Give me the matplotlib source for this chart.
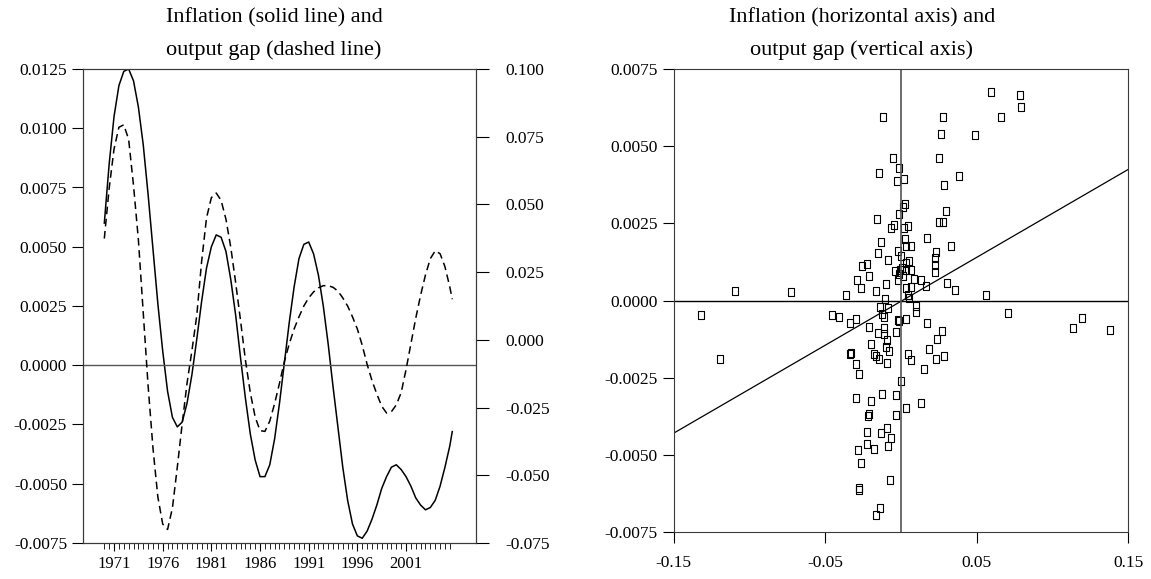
import numpy as np
import matplotlib
matplotlib.use("Agg")
import matplotlib.pyplot as plt
from matplotlib.ticker import FixedLocator, FormatStrFormatter

plt.rcParams["font.family"] = ["Liberation Serif", "DejaVu Serif"]
plt.rcParams["axes.unicode_minus"] = False

# ── data: left panel (half-yearly readings) ──
years = np.append(np.arange(1970.0, 2005.51, 0.5), 2005.75)
inflation = [0.0060, 0.0085, 0.0105, 0.0118, 0.0124, 0.0125, 0.0120, 0.0109,
             0.0093, 0.0072, 0.0049, 0.0026, 0.0006, -0.0011, -0.0022, -0.0026,
             -0.0024, -0.0016, -0.0004, 0.0011, 0.0027, 0.0041, 0.0050, 0.0055,
             0.0054, 0.0048, 0.0036, 0.0021, 0.0003, -0.0014, -0.0029, -0.0040,
             -0.0047, -0.0047, -0.0042, -0.0031, -0.0016, 0.0001, 0.0018, 0.0033,
             0.0045, 0.0051, 0.0052, 0.0047, 0.0038, 0.0025, 0.0009, -0.0009,
             -0.0026, -0.0043, -0.0057, -0.0067, -0.0072, -0.0073, -0.0070, -0.0065,
             -0.0059, -0.0052, -0.0047, -0.0043, -0.0042, -0.0044, -0.0047, -0.0051,
             -0.0056, -0.0059, -0.0061, -0.0060, -0.0057, -0.0051, -0.0043, -0.0034,
             -0.0028]
output_gap = [0.0374, 0.0560, 0.0705, 0.0785, 0.0794, 0.0740, 0.0570, 0.0370,
              0.0100, -0.0170, -0.0400, -0.0580, -0.0680, -0.0700, -0.0620, -0.0470,
              -0.0310, -0.0160, -0.0040, 0.0090, 0.0290, 0.0450, 0.0525, 0.0542,
              0.0515, 0.0445, 0.0340, 0.0210, 0.0070, -0.0075, -0.0195, -0.0285,
              -0.0335, -0.0338, -0.0300, -0.0235, -0.0160, -0.0080, -0.0015, 0.0040,
              0.0085, 0.0125, 0.0155, 0.0177, 0.0192, 0.0200, 0.0200, 0.0194,
              0.0180, 0.0155, 0.0125, 0.0085, 0.0040, -0.0020, -0.0090, -0.0150,
              -0.0200, -0.0245, -0.0270, -0.0265, -0.0240, -0.0195, -0.0110, -0.0015,
              0.0080, 0.0165, 0.0240, 0.0300, 0.0329, 0.0318, 0.0270, 0.0195,
              0.0150]
year_labels = [1971, 1976, 1981, 1986, 1991, 1996, 2001]

# ── data: right panel scatter ──
scatter_x = [-0.0117, -0.0051, -0.0147, -0.0015, 0.0018, -0.0025, 0.0025, 0.0015,
             -0.0010, -0.0157, -0.0048, -0.0065, 0.0018, 0.0045, 0.0173, -0.0131,
             0.0025, 0.0036, 0.0063, -0.0153, -0.0021, 0.0003, -0.0084, 0.0234,
             0.0223, 0.0056, -0.0223, -0.0256, 0.0030, 0.0008, -0.0041, -0.0008,
             0.0036, 0.0063, 0.0223, 0.0223, -0.0213, -0.0015, 0.0015, -0.0289,
             -0.0021, 0.0089, 0.0133, -0.0267, -0.0102, -0.0168, 0.0030, 0.0063,
             0.0168, -0.0362, -0.0107, 0.0045, 0.0051, 0.0591, 0.0784, 0.0789,
             0.0279, 0.0657, 0.0261, 0.0487, 0.0254, 0.0382, 0.0283, 0.0298,
             0.0254, 0.0279, 0.0333, 0.0305, 0.0355, 0.0564, -0.1093, -0.0729,
             -0.0140, -0.0087, 0.0096, 0.0096, -0.0454, -0.0410, -0.0124, -0.0109,
             -0.0300, -0.0338, -0.0021, -0.0015, 0.0030, 0.0173, -0.0213, -0.0109,
             -0.0150, -0.0114, -0.0036, -0.0091, 0.0239, -0.0197, -0.0096, -0.0081,
             0.0184, -0.0329, -0.0338, -0.0175, -0.0162, -0.0147, 0.0048, 0.0063,
             -0.0091, 0.0228, -0.0294, -0.0279, 0.0150, -0.0003, -0.0300, -0.0197,
             -0.0124, -0.0032, 0.0129, 0.0032, -0.0213, -0.0217, -0.0032, -0.0223,
             -0.0129, -0.0091, -0.0063, -0.0223, -0.0180, -0.0084, -0.0283, -0.0267,
             -0.0074, -0.0279, -0.0279, -0.0140, -0.0162, 0.0706, 0.1135, 0.1197,
             0.1378, 0.0272, 0.0282, -0.1323, -0.1195]
scatter_y = [0.00594, 0.00463, 0.00413, 0.00429, 0.00395, 0.00387, 0.00312, 0.00303,
             0.00279, 0.00265, 0.00244, 0.00236, 0.00236, 0.00241, 0.00204, 0.00190,
             0.00198, 0.00176, 0.00176, 0.00154, 0.00161, 0.00143, 0.00133, 0.00157,
             0.00139, 0.00128, 0.00118, 0.00111, 0.00122, 0.00107, 0.00096, 0.00098,
             0.00100, 0.00100, 0.00114, 0.00093, 0.00079, 0.00087, 0.00079, 0.00068,
             0.00066, 0.00070, 0.00068, 0.00042, 0.00055, 0.00031, 0.00042, 0.00044,
             0.00046, 0.00017, 0.00006, 0.00017, 0.00010, 0.00675, 0.00667, 0.00627,
             0.00594, 0.00594, 0.00538, 0.00535, 0.00463, 0.00402, 0.00373, 0.00289,
             0.00255, 0.00255, 0.00177, 0.00058, 0.00036, 0.00017, 0.00031, 0.00028,
             -0.00021, -0.00023, -0.00018, -0.00037, -0.00048, -0.00053, -0.00044, -0.00053,
             -0.00058, -0.00073, -0.00062, -0.00066, -0.00061, -0.00073, -0.00085, -0.00089,
             -0.00105, -0.00109, -0.00102, -0.00129, -0.00123, -0.00139, -0.00150, -0.00163,
             -0.00155, -0.00170, -0.00172, -0.00174, -0.00180, -0.00188, -0.00174, -0.00193,
             -0.00202, -0.00190, -0.00204, -0.00236, -0.00222, -0.00260, -0.00315, -0.00325,
             -0.00301, -0.00307, -0.00330, -0.00346, -0.00366, -0.00375, -0.00371, -0.00425,
             -0.00427, -0.00411, -0.00444, -0.00465, -0.00481, -0.00469, -0.00482, -0.00525,
             -0.00580, -0.00607, -0.00614, -0.00672, -0.00695, -0.00040, -0.00089, -0.00056,
             -0.00094, -0.00098, -0.00180, -0.00045, -0.00189]
fit_x = [-0.15, 0.15]
fit_y = [-0.00429, 0.00425]

W, H = 1151, 579
fig = plt.figure(figsize=(W / 100, H / 100), dpi=100)
edge = "#3a3a3a"

# ── left panel: time series ──
ax1 = fig.add_axes([83 / W, 1 - 543 / H, 393 / W, 474 / H])
ax1.plot(years, inflation, color="black", lw=1.1)
ax1.axhline(0, color="#555555", lw=1.0)
ax1.set_xlim(1967.81, 2008.19)
ax1.set_ylim(-0.0075, 0.0125)
ax1.set_yticks(np.arange(-0.0075, 0.01251, 0.0025))
ax1.yaxis.set_major_formatter(FormatStrFormatter("%.4f"))
ax1.set_xticks(year_labels)
ax1.xaxis.set_minor_locator(FixedLocator(np.arange(1970.0, 2005.76, 0.5)))
ax1.tick_params(axis="x", which="major", direction="out", length=6, labelsize=12)
ax1.tick_params(axis="x", which="minor", direction="out", length=4)
ax1.tick_params(axis="y", direction="out", length=8, labelsize=12.5)

ax2 = ax1.twinx()
ax2.plot(years, output_gap, color="black", lw=1.1, linestyle=(0, (5, 3)))
ax2.set_ylim(-0.075, 0.100)
ax2.set_yticks(np.arange(-0.075, 0.1001, 0.025))
ax2.yaxis.set_major_formatter(FormatStrFormatter("%.3f"))
ax2.tick_params(axis="y", direction="out", length=9, pad=12, labelsize=12.5)
for a in (ax1, ax2):
    for s in a.spines.values():
        s.set_color(edge)

# ── right panel: scatter ──
ax3 = fig.add_axes([673.7 / W, 1 - 532.3 / H, 454.6 / W, 463.3 / H])
box = [(-0.33, -0.5), (0.33, -0.5), (0.33, 0.5), (-0.33, 0.5), (-0.33, -0.5)]
ax3.plot(scatter_x, scatter_y, linestyle="none", marker=box, ms=5.5,
         mfc="none", mec="black", mew=0.8)
ax3.plot(fit_x, fit_y, color="black", lw=0.9)
ax3.axhline(0, color="black", lw=1.0)
ax3.axvline(0, color="#555555", lw=1.2)
ax3.set_xlim(-0.15, 0.15)
ax3.set_ylim(-0.0075, 0.0075)
ax3.set_xticks([-0.15, -0.05, 0.05, 0.15])
ax3.xaxis.set_major_formatter(FormatStrFormatter("%.2f"))
ax3.set_yticks(np.arange(-0.0075, 0.00751, 0.0025))
ax3.yaxis.set_major_formatter(FormatStrFormatter("%.4f"))
ax3.tick_params(direction="out", length=8, labelsize=12.5)
ax3.tick_params(axis="x", pad=8)
for s in ax3.spines.values():
    s.set_color(edge)

fig.text(274 / W, 1 - 18 / H, "Inflation (solid line) and", ha="center", va="center", fontsize=16)
fig.text(274 / W, 1 - 50 / H, "output gap (dashed line)", ha="center", va="center", fontsize=16)
fig.text(862 / W, 1 - 18 / H, "Inflation (horizontal axis) and", ha="center", va="center", fontsize=16)
fig.text(862 / W, 1 - 50 / H, "output gap (vertical axis)", ha="center", va="center", fontsize=16)

fig.savefig("out.png", dpi=100)
